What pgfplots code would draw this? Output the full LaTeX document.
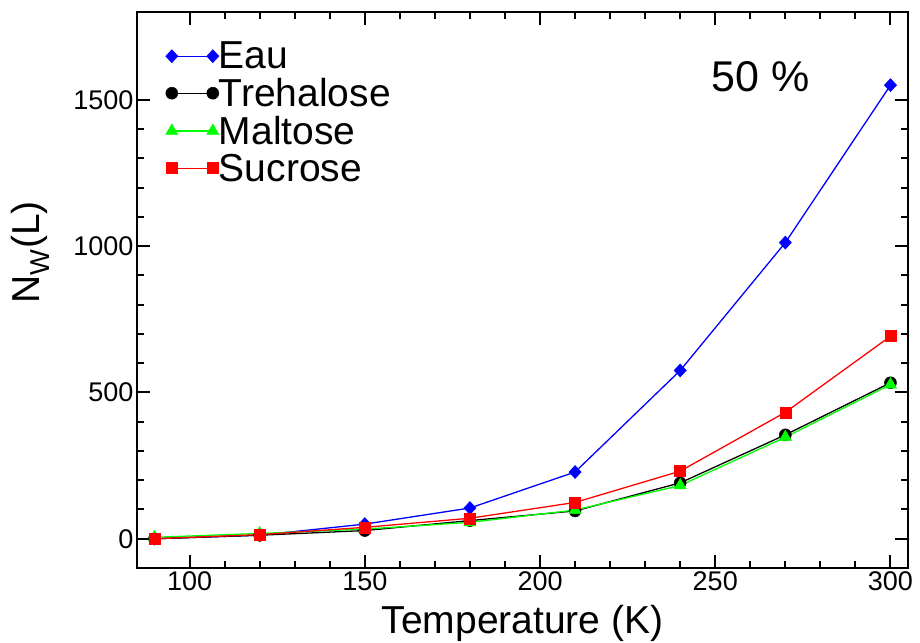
\documentclass[border=0pt]{standalone}
\usepackage{fontspec}
\setmainfont{Liberation Sans}
\usepackage{pgfplots}
\pgfplotsset{compat=1.18}
\definecolor{cblue}{RGB}{0,0,255}
\definecolor{cgreen}{RGB}{0,255,0}
\definecolor{cred}{RGB}{255,0,0}
\begin{document}
\begin{tikzpicture}
\begin{axis}[
  scale only axis, width=771pt, height=556pt,
  xmin=85, xmax=305, ymin=-100, ymax=1800,
  xtick={100,150,200,250,300}, ytick={0,500,1000,1500},
  minor x tick num=4, minor y tick num=4,
  tick align=inside, xtick pos=both, ytick pos=both,
  major tick length=13pt, minor tick length=7pt,
  axis line style={line width=2.5pt},
  every tick/.style={black, line width=2pt},
  tick label style={font=\fontsize{27}{31}\selectfont},
  /pgf/number format/assume math mode=true,
  /pgf/number format/1000 sep={},
  xlabel={Temperature (K)},
  ylabel={N\textsubscript{W}(L)},
  label style={font=\fontsize{39}{44}\selectfont},
  xlabel style={at={(rel axis cs:0.5,-0.1187)}, anchor=base},
  ylabel style={at={(rel axis cs:-0.138,0.568)}, anchor=center},
  legend cell align=left,
  legend style={draw=none, fill=none, font=\fontsize{39}{44}\selectfont,
    at={(rel axis cs:0.037,0.95)}, anchor=north west, inner sep=0pt,
    row sep=4pt, /tikz/every odd column/.append style={column sep=-2pt}},
  legend image code/.code={\draw[#1] plot coordinates {(0pt,0pt) (41pt,0pt)};},
  every axis plot/.append style={line width=1.3pt},
]
\addplot[color=cblue, mark=diamond*, mark size=6.5pt, mark options={solid, fill=cblue, draw=cblue, line width=0.5pt, xscale=1.25}]
  coordinates {(90,0) (120,12) (150,50) (180,105) (210,228) (240,575) (270,1012) (300,1550)};
\addlegendentry{Eau}
\addplot[color=black, mark=*, mark size=6pt, mark options={solid, fill=black, draw=black, line width=0.5pt}]
  coordinates {(90,0) (120,12) (150,28) (180,62) (210,95) (240,191) (270,355) (300,533)};
\addlegendentry{Trehalose}
\addplot[color=cgreen, mark=triangle*, mark size=7pt, mark options={solid, fill=cgreen, draw=cgreen, line width=0.5pt}]
  coordinates {(90,5) (120,18) (150,33) (180,56) (210,98) (240,182) (270,347) (300,527)};
\addlegendentry{Maltose}
\addplot[color=cred, mark=square*, mark size=5.5pt, mark options={solid, fill=cred, draw=cred, line width=0.5pt}]
  coordinates {(90,0) (120,14) (150,39) (180,70) (210,124) (240,231) (270,432) (300,692)};
\addlegendentry{Sucrose}
\node[font=\fontsize{43}{48}\selectfont, anchor=center] at (axis cs:262.9,1579) {50 \%};
\end{axis}
\pgfresetboundingbox
\path ([shift={(-137pt,-74pt)}]current axis.south west) rectangle ([shift={(12pt,12pt)}]current axis.north east);
\end{tikzpicture}
\end{document}
